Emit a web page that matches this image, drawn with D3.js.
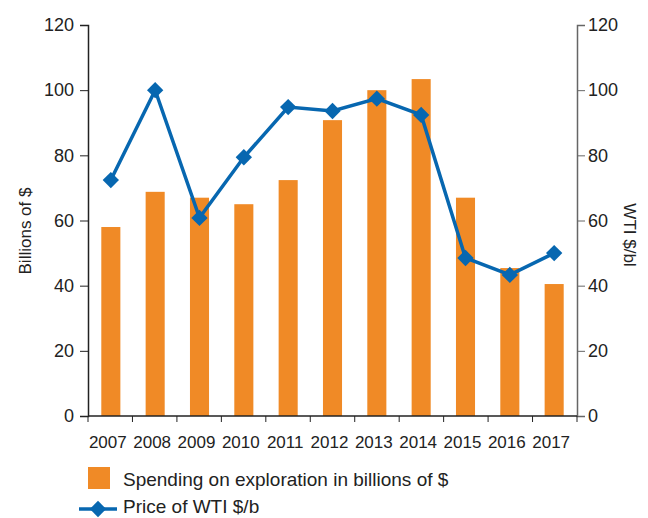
<!DOCTYPE html>
<html>
<head>
<meta charset="utf-8">
<script src="https://cdn.jsdelivr.net/npm/d3@7"></script>
<style>
body { margin: 0; background: #fff; }
text { font-family: "Liberation Sans", Arial, sans-serif; fill: #222; }
</style>
</head>
<body>
<script>
var years = ['2007', '2008', '2009', '2010', '2011', '2012', '2013', '2014', '2015', '2016', '2017'];
var spending = [58, 68.8, 67, 65, 72.4, 90.8, 100, 103.4, 67, 45.4, 40.5];
var wti = [72.4, 100, 60.8, 79.4, 94.8, 93.6, 97.4, 92.4, 48.5, 43.3, 50];
var yTicks = [0, 20, 40, 60, 80, 100, 120];

var margin = { left: 88, right: 71, top: 25, bottom: 102 };
var width = 648 - margin.left - margin.right;
var height = 518 - margin.top - margin.bottom;

var svg = d3.select('body').append('svg')
	.attr('width', 648)
	.attr('height', 518);

var g = svg.append('g').attr('transform', 'translate(' + margin.left + ',' + margin.top + ')');

var x = d3.scaleBand().domain(years).range([0, width]).paddingInner(0.57).paddingOuter(0.3);
var yL = d3.scaleLinear().domain([0, 120]).range([height, 0]);
var yR = d3.scaleLinear().domain([0, 120]).range([height, 0]);

// bars
g.selectAll('rect.bar')
	.data(spending)
	.enter()
	.append('rect')
	.attr('class', 'bar')
	.attr('x', function(d, i) { return x(years[i]); })
	.attr('y', function(d) { return yL(d); })
	.attr('width', x.bandwidth())
	.attr('height', function(d) { return height - yL(d); })
	.attr('fill', '#f08a26');

// axes
var leftAxis = g.append('g').call(d3.axisLeft(yL).tickValues(yTicks).tickSizeOuter(0).tickSize(8).tickPadding(6));
var rightAxis = g.append('g').attr('transform', 'translate(' + width + ',0)')
	.call(d3.axisRight(yR).tickValues(yTicks).tickSizeOuter(0).tickSize(8).tickPadding(3));

// x axis with ticks at band edges
var xEdge = d3.scaleLinear().domain([0, years.length]).range([0, width]);
var xAxis = g.append('g').attr('transform', 'translate(0,' + height + ')');
xAxis.append('line').attr('x1', 0).attr('x2', width).attr('stroke', '#222').attr('stroke-width', 1.5);
xAxis.selectAll('line.tk')
	.data(d3.range(years.length + 1))
	.enter()
	.append('line')
	.attr('class', 'tk')
	.attr('x1', function(d) { return xEdge(d); })
	.attr('x2', function(d) { return xEdge(d); })
	.attr('y1', 0)
	.attr('y2', 6)
	.attr('stroke', '#222');
xAxis.selectAll('text')
	.data(years)
	.enter()
	.append('text')
	.attr('x', function(d) { return x(d) + x.bandwidth() / 2 - 3; })
	.attr('y', 32)
	.attr('text-anchor', 'middle')
	.attr('font-size', '17px')
	.text(function(d) { return d; });

[leftAxis, rightAxis].forEach(function(a) {
	a.selectAll('text').attr('font-size', '18px').style('font-family', '"Liberation Sans", Arial, sans-serif').attr('fill', '#222');
	a.select('.domain').attr('stroke-width', 1.5);
});
leftAxis.selectAll('line, .domain').attr('stroke', '#222');
rightAxis.selectAll('line, .domain').attr('stroke', '#666');

// line
var cx = function(d, i) { return x(years[i]) + x.bandwidth() / 2; };
var line = d3.line().x(cx).y(function(d) { return yR(d); });
g.append('path')
	.datum(wti)
	.attr('d', line)
	.attr('fill', 'none')
	.attr('stroke', '#0767b0')
	.attr('stroke-width', 3.5);

g.selectAll('path.mark')
	.data(wti)
	.enter()
	.append('path')
	.attr('class', 'mark')
	.attr('d', d3.symbol().type(d3.symbolDiamond2).size(170))
	.attr('transform', function(d, i) { return 'translate(' + cx(d, i) + ',' + yR(d) + ')'; })
	.attr('fill', '#0767b0');

// axis titles
svg.append('text')
	.attr('transform', 'translate(31,231) rotate(-90)')
	.attr('text-anchor', 'middle')
	.attr('font-size', '17px')
	.text('Billions of $');
svg.append('text')
	.attr('transform', 'translate(624,235) rotate(90)')
	.attr('text-anchor', 'middle')
	.attr('font-size', '17px')
	.text('WTI $/bl');

// legend
svg.append('rect').attr('x', 88).attr('y', 467).attr('width', 22).attr('height', 22).attr('fill', '#f08a26');
svg.append('text').attr('x', 123).attr('y', 486).attr('font-size', '19px').text('Spending on exploration in billions of $');
svg.append('line').attr('x1', 79).attr('x2', 117).attr('y1', 509).attr('y2', 509).attr('stroke', '#0767b0').attr('stroke-width', 3.5);
svg.append('path').attr('d', d3.symbol().type(d3.symbolDiamond2).size(170)).attr('transform', 'translate(98,509)').attr('fill', '#0767b0');
svg.append('text').attr('x', 123).attr('y', 513).attr('font-size', '19px').text('Price of WTI $/b');
</script>
</body>
</html>
